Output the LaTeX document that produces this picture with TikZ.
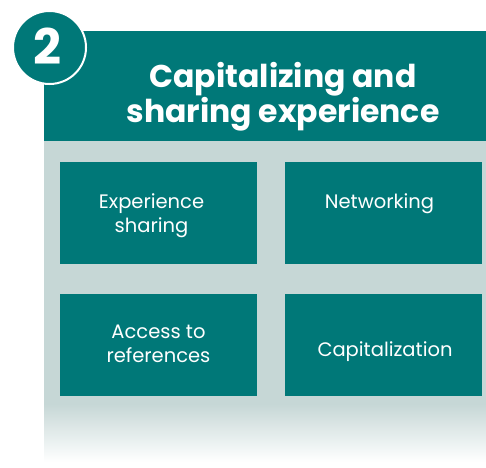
\documentclass[tikz,border=0pt]{standalone}
\usepackage{fontspec}
\setmainfont{Poppins}
\definecolor{teal}{HTML}{007878}
\definecolor{panel}{HTML}{C6D7D6}
\begin{document}
\begin{tikzpicture}[x=1pt,y=-1pt,
  tile/.style={fill=teal,draw=none},
  lbl/.style={text=white,align=center,font=\fontsize{19.5}{24}\selectfont,inner sep=0pt}]
\useasboundingbox (0,0) rectangle (486,467);
% panel
\fill[panel] (44,141) rectangle (486,405);
\shade[top color=panel,bottom color=white] (44,404) rectangle (486,462);
% header
\fill[teal] (44,31) rectangle (486,141);
\node[text=white,align=center,font=\bfseries\fontsize{31.5}{32}\selectfont,inner sep=0pt,anchor=base] (title) at (283,122) {Capitalizing and\\sharing experience};
% badge
\node[circle,fill=teal,draw=white,line width=2pt,minimum size=73pt,inner sep=0pt] (badge) at (49.5,47.5) {};
\node[text=white,font=\bfseries\fontsize{49}{49}\selectfont,inner sep=0pt] (num) at (47,46.5) {2};
% tiles
\fill[tile] (60,162) rectangle (257,264);
\fill[tile] (285,162) rectangle (482,264);
\fill[tile] (60,294) rectangle (257,396);
\fill[tile] (285,294) rectangle (482,396);
\node[lbl,anchor=base] (t1) at (151.5,232) {Experience\\sharing};
\node[lbl,anchor=base] (t2) at (379.5,208) {Networking};
\node[lbl,anchor=base] (t3) at (158.5,362) {Access to\\references};
\node[lbl,anchor=base] (t4) at (385,356) {Capitalization};
\end{tikzpicture}
\end{document}
